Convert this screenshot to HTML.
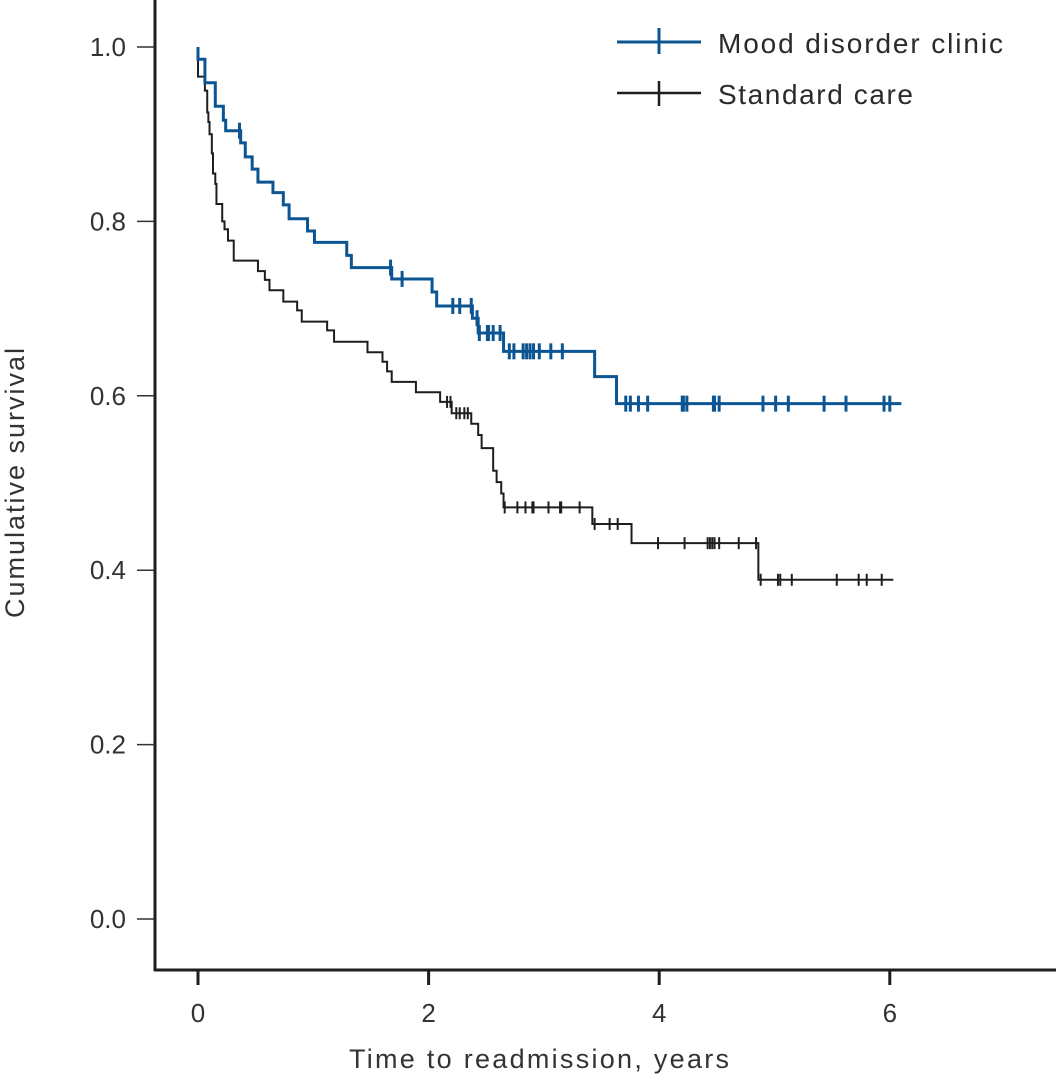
<!DOCTYPE html>
<html><head><meta charset="utf-8"><style>
html,body{margin:0;padding:0;background:#fff;}
svg{display:block;font-family:"Liberation Sans",sans-serif;}
</style></head><body>
<svg id="chart" width="1056" height="1078" viewBox="0 0 1056 1078" xmlns="http://www.w3.org/2000/svg">
<g id="axes"></g>
<g id="series"></g>
<g>
  <g>
    <line x1="617" y1="42" x2="701" y2="42" stroke="#0b5592" stroke-width="3"/>
    <line x1="659" y1="28" x2="659" y2="54" stroke="#0b5592" stroke-width="3"/>
    <text x="718" y="53" font-size="28" fill="#2a2a2a" textLength="285">Mood disorder clinic</text>
  </g>
  <g>
    <line x1="617" y1="93" x2="701" y2="93" stroke="#1e1e1e" stroke-width="2.5"/>
    <line x1="659" y1="81" x2="659" y2="106" stroke="#1e1e1e" stroke-width="2.5"/>
    <text x="718" y="104" font-size="28" fill="#2a2a2a" textLength="195">Standard care</text>
  </g>
</g>
<text x="539" y="1068" font-size="27" fill="#333" text-anchor="middle" textLength="380">Time to readmission, years</text>
<text transform="translate(24,483) rotate(-90)" font-size="27" fill="#333" text-anchor="middle" textLength="270">Cumulative survival</text>
</svg>
<script>
const xTicks = [0, 2, 4, 6];
const yTicks = [0.0, 0.2, 0.4, 0.6, 0.8, 1.0];
const yTickLabels = ["0.0", "0.2", "0.4", "0.6", "0.8", "1.0"];
const moodTimes = [0.00,0.06,0.15,0.22,0.24,0.37,0.41,0.47,0.52,0.65,0.74,0.79,0.95,1.01,1.29,1.33,1.68,2.03,2.07,2.38,2.43,2.65,3.44,3.63];
const moodSurv = [0.986,0.959,0.932,0.916,0.904,0.890,0.874,0.860,0.845,0.833,0.819,0.803,0.789,0.776,0.761,0.747,0.734,0.719,0.703,0.689,0.672,0.651,0.622,0.591];
const moodCensor = [0.36,1.67,1.77,2.21,2.27,2.37,2.42,2.44,2.51,2.52,2.56,2.62,2.70,2.74,2.82,2.85,2.88,2.91,2.96,3.06,3.16,3.71,3.75,3.82,3.90,4.20,4.21,4.24,4.47,4.48,4.52,4.90,5.01,5.12,5.43,5.62,5.95,6.00];
const moodEnd = 6.10;
const stdTimes = [0.00,0.06,0.08,0.09,0.10,0.12,0.13,0.15,0.16,0.21,0.23,0.26,0.31,0.52,0.58,0.62,0.74,0.86,0.90,1.12,1.18,1.47,1.60,1.64,1.68,1.89,2.10,2.20,2.37,2.43,2.46,2.56,2.59,2.63,2.65,3.42,3.76,4.86];
const stdSurv = [0.966,0.950,0.925,0.914,0.900,0.878,0.855,0.843,0.820,0.800,0.791,0.778,0.755,0.743,0.733,0.721,0.708,0.698,0.685,0.675,0.662,0.650,0.639,0.628,0.616,0.604,0.593,0.580,0.568,0.555,0.540,0.514,0.501,0.488,0.472,0.453,0.431,0.389];
const stdCensor = [2.16,2.19,2.24,2.27,2.31,2.34,2.66,2.77,2.84,2.90,2.91,3.04,3.14,3.15,3.31,3.44,3.57,3.64,3.99,4.22,4.42,4.44,4.46,4.48,4.52,4.69,4.84,4.88,5.03,5.05,5.15,5.54,5.73,5.80,5.93];
const stdEnd = 6.03;

const NS = "http://www.w3.org/2000/svg";
const X = t => 198 + t * 115.3;
const Y = s => 919 - s * 872;
function mk(tag, attrs, parent) {
  const e = document.createElementNS(NS, tag);
  for (const k in attrs) e.setAttribute(k, attrs[k]);
  parent.appendChild(e);
  return e;
}
const axes = document.getElementById('axes');
const series = document.getElementById('series');
let el = mk('line', {x1:155, y1:0, x2:155, y2:971, stroke:'#1e1e1e', 'stroke-width':3}, axes);


el = mk('line', {x1:154, y1:970, x2:1056, y2:970, stroke:'#1e1e1e', 'stroke-width':3}, axes);


yTicks.forEach((v, i) => {
  const t = mk('line', {x1:137, y1:Y(v), x2:154, y2:Y(v), stroke:'#333', 'stroke-width':1.5}, axes);
  
  
  const l = mk('text', {x:126, y:Y(v)+9, 'font-size':26, fill:'#333', 'text-anchor':'end'}, axes);
  l.textContent = yTickLabels[i];
  
  
});
xTicks.forEach(v => {
  const t = mk('line', {x1:X(v), y1:971, x2:X(v), y2:985, stroke:'#1e1e1e', 'stroke-width':3}, axes);
  
  
  const l = mk('text', {x:X(v), y:1022, 'font-size':26, fill:'#333', 'text-anchor':'middle'}, axes);
  l.textContent = String(v);
  
  
});
function survAt(times, surv, t) {
  let s = 1;
  for (let i = 0; i < times.length; i++) if (times[i] <= t) s = surv[i];
  return s;
}
function drawSeries(name, times, surv, censor, end, color, w, th) {
  const g = mk('g', {}, series);
  
  
  let d = 'M' + X(0) + ' ' + Y(1);
  let s = 1;
  times.forEach((t, i) => {
    d += ' H' + X(t) + ' V' + Y(surv[i]);
    s = surv[i];
  });
  d += ' H' + X(end);
  const p = mk('path', {d:d, fill:'none', stroke:color, 'stroke-width':w}, g);
  
  
  censor.forEach(c => {
    const yy = Y(survAt(times, surv, c));
    const m = mk('line', {x1:X(c), y1:yy-th, x2:X(c), y2:yy+th, stroke:color, 'stroke-width':w}, g);
    
    
  });
}
drawSeries('standard-care-series', stdTimes, stdSurv, stdCensor, stdEnd, '#1e1e1e', 2, 6);
drawSeries('mood-clinic-series', moodTimes, moodSurv, moodCensor, moodEnd, '#0b5592', 3, 8);
</script>
</body></html>
